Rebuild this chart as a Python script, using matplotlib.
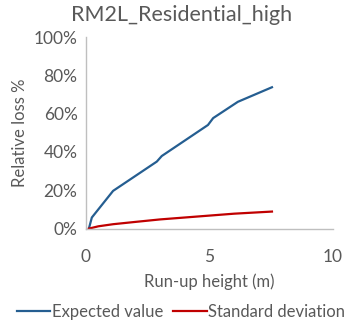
import matplotlib
matplotlib.use("Agg")
import matplotlib.pyplot as plt
from matplotlib.ticker import PercentFormatter

# data
x_exp = [0.12, 0.24, 1.1, 2.87, 3.07, 4.94, 5.15, 6.15, 7.53]
y_exp = [0.0, 5.8, 19.7, 35.0, 37.9, 54.1, 57.7, 66.2, 73.8]

x_std = [0.12, 0.5, 1.1, 2.0, 3.0, 4.0, 5.0, 6.0, 7.53]
y_std = [0.0, 1.2, 2.3, 3.5, 4.8, 5.8, 6.8, 7.8, 8.9]

title = "RM2L_Residential_high"
grey = "#595959"

plt.rcParams["font.family"] = ["Lato", "DejaVu Sans"]

fig = plt.figure(figsize=(3.55, 3.28), dpi=100)
ax = fig.add_axes([0.242, 0.303, 0.696, 0.584])

ax.plot(x_exp, y_exp, color="#255E91", lw=1.6, label="Expected value")
ax.plot(x_std, y_std, color="#C00000", lw=1.6, label="Standard deviation")

ax.set_xlim(0, 10)
ax.set_ylim(0, 100)
ax.set_xticks([0, 5, 10])
ax.set_yticks([0, 20, 40, 60, 80, 100])
ax.yaxis.set_major_formatter(PercentFormatter(decimals=0))

for s in ["top", "right"]:
    ax.spines[s].set_visible(False)
for s in ["left", "bottom"]:
    ax.spines[s].set_color("#bfbfbf")
    ax.spines[s].set_linewidth(1.0)
ax.tick_params(length=0, colors=grey, labelsize=12.5)
ax.tick_params(axis="x", pad=15)
ax.tick_params(axis="y", pad=6)

# title is centred on the figure, not on the axes
fig.text(0.512, 0.953, title, color=grey, fontsize=15.5, ha="center", va="center")
ax.set_xlabel("Run-up height (m)", color=grey, fontsize=12, labelpad=6)
ax.set_ylabel("Relative loss %", color=grey, fontsize=12, labelpad=4)

leg = fig.legend(loc="lower center", bbox_to_anchor=(0.51, -0.022), ncol=2,
                 frameon=False, fontsize=12, handlelength=2.0,
                 handletextpad=0.1, columnspacing=0.6, labelcolor=grey)

fig.savefig("out.png", dpi=100)
